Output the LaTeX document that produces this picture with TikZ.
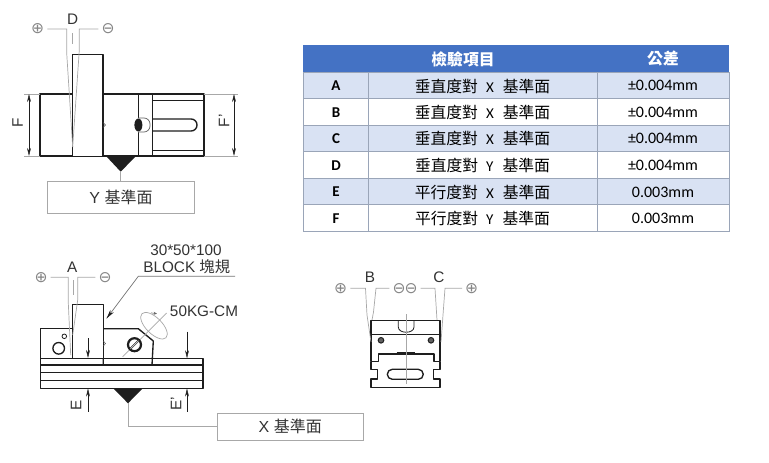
\documentclass[tikz,border=0pt]{standalone}
\usepackage{fontspec}
\usetikzlibrary{arrows.meta}
\setmainfont{Liberation Sans}
\newfontfamily\cjkfont{Noto Sans CJK TC}
\newfontfamily\calfont{Carlito}
\newfontfamily\symfont{DejaVu Sans}
\definecolor{hdr}{HTML}{4472C4}
\definecolor{band}{HTML}{D9E2F3}
\definecolor{rule}{HTML}{9AA5B8}
\definecolor{ink}{HTML}{1E1E1E}
\definecolor{thin}{HTML}{A8A8A8}
\definecolor{lab}{HTML}{333333}
\tikzset{
  thickline/.style={draw=ink,line width=1.35pt,line join=round},
  midline/.style={draw=ink,line width=.8pt},
  greyline/.style={draw=thin,line width=.7pt},
  arr/.style={-{Stealth[length=8pt,width=3.8pt]},draw=ink,line width=.45pt},
  biarr/.style={{Stealth[length=8pt,width=3.8pt]}-{Stealth[length=8pt,width=3.8pt]},draw=ink,line width=.45pt},
  lbl/.style={inner sep=0pt,text=lab,font=\fontsize{15.3}{15.3}\selectfont},
  sym/.style={inner sep=0pt,text=thin!80!black,font=\symfont\fontsize{15.5}{15.5}\selectfont},
  refbox/.style={draw=thin,line width=.8pt,fill=white,inner sep=0pt,text=lab,font=\fontsize{16}{16}\selectfont},
  cell/.style={inner sep=0pt,text=black},
  namecell/.style={cell,font=\calfont\bfseries\fontsize{15}{15}\selectfont},
  itemcell/.style={cell,font=\cjkfont\fontsize{15.8}{15.8}\selectfont},
  valcell/.style={cell,font=\calfont\fontsize{16}{16}\selectfont},
  headcell/.style={inner sep=0pt,text=white,font=\cjkfont\bfseries\fontsize{15.8}{15.8}\selectfont},
}
\newcommand{\itemtext}[2]{#1\hspace{8pt}{\calfont\fontsize{15}{15}\selectfont #2}\hspace{9pt}基準面}
\begin{document}
\begin{tikzpicture}[x=1pt,y=-1pt]
\useasboundingbox (0,0) rectangle (769,463);
\fill[white] (0,0) rectangle (769,463);
% ---------- table
\fill[hdr] (303,45) rectangle (729,72);
\fill[band] (303,72) rectangle (729,98.5);
\fill[band] (303,125) rectangle (729,151);
\fill[band] (303,178) rectangle (729,204.5);
\draw[rule,line width=.6pt] (303,72) rectangle (729,231);
\foreach \yy in {98.5,125,151,178,204.5} \draw[rule,line width=.6pt] (303,\yy) -- (729,\yy);
\foreach \xx in {368,597} \draw[rule,line width=.6pt] (\xx,72) -- (\xx,231);
\node[headcell] (h1) at (463,59) {檢驗項目};
\node[headcell] (h2) at (663,59) {公差};
\node[namecell] (ra) at (336,86) {A};
\node[namecell] (rb) at (336,112.5) {B};
\node[namecell] (rc) at (336,138.5) {C};
\node[namecell] (rd) at (336,165.5) {D};
\node[namecell] (re) at (336,192) {E};
\node[namecell] (rf) at (336,218.5) {F};
\node[itemcell] (ia) at (482.5,86) {\itemtext{垂直度對}{X}};
\node[itemcell] (ib) at (482.5,112.5) {\itemtext{垂直度對}{X}};
\node[itemcell] (ic) at (482.5,138.5) {\itemtext{垂直度對}{X}};
\node[itemcell] (id) at (482.5,165.5) {\itemtext{垂直度對}{Y}};
\node[itemcell] (ie) at (482.5,192) {\itemtext{平行度對}{X}};
\node[itemcell] (if) at (482.5,218.5) {\itemtext{平行度對}{Y}};
\node[valcell] (va) at (663,85.5) {±0.004mm};
\node[valcell] (vb) at (663,112) {±0.004mm};
\node[valcell] (vc) at (663,138) {±0.004mm};
\node[valcell] (vd) at (663,165) {±0.004mm};
\node[valcell] (ve) at (663,192) {0.003mm};
\node[valcell] (vf) at (663,218.5) {0.003mm};
% ---------- top-left view
\draw[thickline] (40,94) rectangle (204,156);
\draw[thickline,fill=white] (72.7,156) -- (72.7,54.3) -- (103,54.3) -- (103,156);
\draw[midline] (138.7,94) -- (138.7,156);
\draw[midline] (152.3,94) -- (152.3,156);
\draw[midline] (152.3,100) -- (204,100);
\draw[midline] (152.3,150) -- (204,150);
\draw[thickline,rounded corners=5.9pt] (152.3,119) -- (197,119) -- (197,131) -- (152.3,131);
\draw[draw=ink!70,line width=.7pt,rounded corners=6pt,fill=white] (138,118) -- (150,118) -- (150,132) -- (138,132);
\fill[ink] (138.4,125) ellipse (4 and 6.5);
\draw[draw=ink!80,line width=.5pt] (103,122.5) -- (105.5,125) -- (103,127.5);
\fill[ink] (106,156) -- (136,156) -- (120.7,171.7) -- cycle;
\node[refbox,minimum width=146.6pt,minimum height=32.3pt] (ybox) at (121,197.2) {Y {\cjkfont 基準面}};
\coordinate (ytip) at (120.7,171.7);
\draw[greyline] (ytip) -- (ybox.north -| ytip);
\node[lbl] (dl) at (72.7,19) {D};
\node[sym] (dp) at (37.7,29) {⊕};
\node[sym] (dm) at (108,29) {⊖};
\coordinate (dt) at (72.7,147);
\draw[greyline] (dp.east)++(3,0) -- (66.7,29) -- (66.7,53) -- (dt);
\draw[greyline] (dm.west)++(-3,0) -- (79.3,29) -- (79.3,50) -- (dt);
\draw[greyline] (72.7,33) -- (72.7,44);
% F dims
\draw[greyline] (24,94) -- (40,94);
\draw[greyline] (24,156) -- (40,156);
\draw[biarr] (29,94) -- (29,156);
\node[lbl,rotate=90] (fl) at (17.5,123) {F};
\draw[greyline] (204,94) -- (238,94);
\draw[greyline] (204,156) -- (238,156);
\draw[biarr] (234,94) -- (234,156);
\node[lbl,rotate=90] (fr) at (224,123) {F\rlap{\hspace{.5pt}'}};
% ---------- bottom-left view
\draw[thickline] (40.7,358.3) rectangle (203,388.3);
\draw[thickline] (40.7,358.3) -- (40.7,328.7) -- (72.7,328.7);
\draw[thickline] (103.3,365) -- (103.3,328.7) -- (138.3,328.7) -- (153.3,341) -- (152,365);
\draw[thickline] (40.7,365) -- (203,365);
\draw[thickline] (40.7,372.7) -- (203,372.7);
\draw[thickline] (40.7,380.7) -- (203,380.7);
\draw[midline] (152,358.3) -- (203,358.3);
\draw[thickline,fill=white] (72.7,358.3) rectangle (103.3,304.3);
\draw[draw=ink!80,line width=.5pt] (103.3,341) -- (105.5,343.5) -- (103.3,346);
\draw[thickline] (58.7,348.3) circle (5.8);
\draw[midline] (64.3,336.3) circle (2.3);
\draw[greyline] (122.7,356.7) -- (166.7,313);
\draw[draw=ink,line width=2.2pt,fill=white] (134.5,344.7) circle (6.5);
\draw[draw=ink,line width=1.8pt] (130,349.2) -- (139,340.2);
\draw[draw=white,line width=.5pt] (130.5,348.7) -- (138.5,340.7);
\draw[greyline] (154,325.7) ellipse [x radius=17,y radius=8,rotate=-45];
\draw[draw=thin!60!black,line width=.5pt,-{Stealth[length=3.5pt,width=3pt]}] (151,312.8) -- (157,313.8);
\fill[ink] (113.3,388.3) -- (142.7,388.3) -- (128,403.3) -- cycle;
\coordinate (xtip) at (128,403.3);
\node[refbox,minimum width=145.6pt,minimum height=27pt] (xbox) at (290.2,426.5) {X {\cjkfont 基準面}};
\draw[greyline] (xtip) |- (xbox.west);
\node[lbl] (al) at (72.3,267.3) {A};
\node[sym] (ap) at (41,277.3) {⊕};
\node[sym] (am) at (105,277.3) {⊖};
\coordinate (at1) at (70.7,355);
\coordinate (at2) at (72.7,335);
\draw[greyline] (ap.east)++(3,0) -- (68.3,277.3) -- (68.3,303) -- (at1);
\draw[greyline] (am.west)++(-3,0) -- (77.7,277.3) -- (77.7,300) -- (at2);
\draw[greyline] (73.3,280) -- (73.3,295);
\node[lbl] (bl1) at (186,250) {30*50*100};
\node[lbl] (bl2) at (186.7,266.7) {BLOCK {\cjkfont 塊規}};
\coordinate (lead0) at (235,276.3);
\coordinate (lead1) at (138.3,276.3);
\coordinate (lead2) at (106.7,318.3);
\draw[greyline,draw=thin!70!black] (lead0) -- (lead1) -- (lead2);
\draw[{Stealth[length=9pt,width=4.2pt]}-,draw=ink,line width=.5pt] (lead2) -- ++(3,-4);
\node[lbl] (kg) at (204,311.7) {50KG-CM};
% E dims
\draw[arr] (88,338) -- (88,358);
\draw[arr] (88,411.5) -- (88,388.5);
\draw[arr] (187,331.7) -- (187,358.3);
\draw[arr] (187,411.5) -- (187,388.5);
\node[lbl,rotate=90] (el) at (76,405.7) {E};
\node[lbl,rotate=90] (er) at (176,405.7) {E\rlap{\hspace{.5pt}'}};
% ---------- bottom-right view
\draw[thickline] (371,361.7) -- (371,320.7) -- (440,320.7) -- (440,361.7) -- (434,361.7) -- (434,354) -- (378.3,354) -- (378.3,361.7) -- cycle;
\draw[thickline] (371,334.3) -- (440,334.3);
\draw[thickline] (371,361.7) -- (371,369.3) -- (377.3,369.3) -- (377.3,379) -- (371,379) -- (371,387.7) -- (440,387.7) -- (440,379) -- (433.3,379) -- (433.3,369.3) -- (440,369.3) -- (440,361.7);
\draw[thickline,rounded corners=5pt] (387.3,369.3) rectangle (423.3,379.3);
\draw[midline] (398.3,320.7) -- (398.3,327) .. controls (398.3,334) and (414,334) .. (414,327) -- (414,320.7);
\draw[draw=ink,line width=1pt,fill=ink!70] (381,340.3) circle (2.8);
\draw[draw=ink,line width=1pt,fill=ink!70] (431,340.3) circle (2.8);
\draw[draw=ink,line width=1.6pt] (396.7,352.7) -- (415,352.7);
\draw[greyline,line width=.4pt] (405.7,314) -- (405.7,384);
\node[lbl] (bl) at (370,277.3) {B};
\node[lbl] (cl) at (439,277.3) {C};
\node[sym] (bp) at (340.7,288.3) {⊕};
\node[sym] (bm) at (399,288.3) {⊖};
\node[sym] (cm) at (411,288.3) {⊖};
\node[sym] (cp) at (471.7,288.3) {⊕};
\coordinate (bt1) at (371,342);
\coordinate (bt2) at (372,320);
\coordinate (ct1) at (437,320);
\coordinate (ct2) at (441,342);
\draw[greyline] (bp.east)++(3,0) -- (365.5,288.3) -- (367,315) -- (bt1);
\draw[greyline] (bm.west)++(-3,0) -- (376,288.3) -- (373.5,312) -- (bt2);
\draw[greyline] (cm.east)++(3,0) -- (435,288.3) -- (436.5,312) -- (ct1);
\draw[greyline] (cp.west)++(-3,0) -- (445,288.3) -- (443,315) -- (ct2);
\end{tikzpicture}
\end{document}
